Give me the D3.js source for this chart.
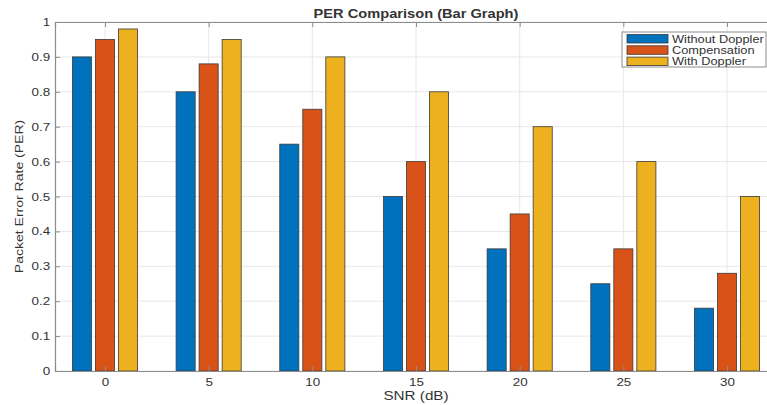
<!DOCTYPE html>
<html>
<script src="https://cdn.jsdelivr.net/npm/d3@7"></script>
<style>
  body { margin: 0; background: white; }
  text { font-family: "Liberation Sans", Arial, sans-serif; fill: #333; }
</style>
<body>
<svg width="767" height="405"></svg>
<script>
// data
var snr = [0, 5, 10, 15, 20, 25, 30];
var seriesNames = ["Without Doppler", "Compensation", "With Doppler"];
var withoutDoppler = [0.9, 0.8, 0.65, 0.5, 0.35, 0.25, 0.18];
var compensation = [0.95, 0.88, 0.75, 0.6, 0.45, 0.35, 0.28];
var withDoppler = [0.98, 0.95, 0.9, 0.8, 0.7, 0.6, 0.5];
var yTicks = [0, 0.1, 0.2, 0.3, 0.4, 0.5, 0.6, 0.7, 0.8, 0.9, 1];

var colors = ["#0072BD", "#D95319", "#EDB120"];
var series = [withoutDoppler, compensation, withDoppler];

var svg = d3.select("svg");
var mLeft = 55, mRight = 777, mTop = 22, mBottom = 371;
var sx = 1.22; // text in the picture is drawn wide

var x = d3.scaleLinear().domain([-2.41, 32.41]).range([mLeft, mRight]);
var y = d3.scaleLinear().domain([0, 1]).range([mBottom, mTop]);

function label(px, py, str, size, extra) {
  return svg.append("text")
    .attr("transform", "translate(" + px + "," + py + ")" + (extra || "") + "scale(" + sx + ",1)")
    .attr("text-anchor", "middle")
    .style("font-size", size + "px")
    .text(str);
}

// grid
svg.append("g").selectAll("line")
  .data(yTicks).enter().append("line")
  .attr("x1", mLeft).attr("x2", mRight)
  .attr("y1", d => y(d)).attr("y2", d => y(d))
  .attr("stroke", "#e8e8e8").attr("stroke-width", 1);
svg.append("g").selectAll("line")
  .data(snr).enter().append("line")
  .attr("x1", d => x(d)).attr("x2", d => x(d))
  .attr("y1", mTop).attr("y2", mBottom)
  .attr("stroke", "#e8e8e8").attr("stroke-width", 1);

// bars
var bw = x(0.92) - x(0);
var step = x(1.11) - x(0);
series.forEach(function(vals, si) {
  svg.append("g").selectAll("rect")
    .data(vals).enter().append("rect")
    .attr("x", (d, i) => x(snr[i]) + (si - 1) * step - bw / 2)
    .attr("y", d => y(d))
    .attr("width", bw)
    .attr("height", d => y(0) - y(d))
    .attr("fill", colors[si])
    .attr("stroke", "#3a3a3a")
    .attr("stroke-width", 0.8);
});

// axes
var yAxis = svg.append("g")
  .attr("transform", "translate(" + mLeft + ",0)")
  .call(d3.axisLeft(y).tickValues(yTicks).tickSize(-5).tickPadding(4).tickFormat(d3.format("~g")));
var xAxis = svg.append("g")
  .attr("transform", "translate(0," + mBottom + ")")
  .call(d3.axisBottom(x).tickValues(snr).tickSize(-5).tickPadding(7));
svg.append("g")
  .attr("transform", "translate(0," + mTop + ")")
  .call(d3.axisTop(x).tickValues(snr).tickSize(-5).tickFormat(""));
[yAxis, xAxis].forEach(function(a) {
  a.selectAll("text").style("font-size", "11px").attr("fill", "#333")
    .attr("transform", "scale(" + sx + ",1)");
});
svg.selectAll(".domain").attr("stroke", "#8c8c8c").attr("stroke-width", 1.2);
svg.selectAll(".tick line").attr("stroke", "#8c8c8c");

// title and labels
label((mLeft + mRight) / 2, 18, "PER Comparison (Bar Graph)", 12)
  .style("font-weight", "bold").attr("fill", "#222");
label((mLeft + mRight) / 2, 400, "SNR (dB)", 12.5);
label(23, (mTop + mBottom) / 2, "Packet Error Rate (PER)", 11.5, "rotate(-90)");

// legend
var lg = svg.append("g").attr("transform", "translate(622,32)");
lg.append("rect").attr("width", 144).attr("height", 35)
  .attr("fill", "white").attr("stroke", "#8c8c8c").attr("stroke-width", 1);
seriesNames.forEach(function(name, i) {
  lg.append("rect")
    .attr("x", 5).attr("y", 2.5 + i * 11.3).attr("width", 41).attr("height", 8.5)
    .attr("fill", colors[i]).attr("stroke", "#3a3a3a").attr("stroke-width", 0.8);
  lg.append("text")
    .attr("transform", "translate(50," + (10.5 + i * 11.3) + ")scale(" + sx + ",1)")
    .style("font-size", "10.5px")
    .attr("fill", "#222")
    .text(name);
});
</script>
</body>
</html>
